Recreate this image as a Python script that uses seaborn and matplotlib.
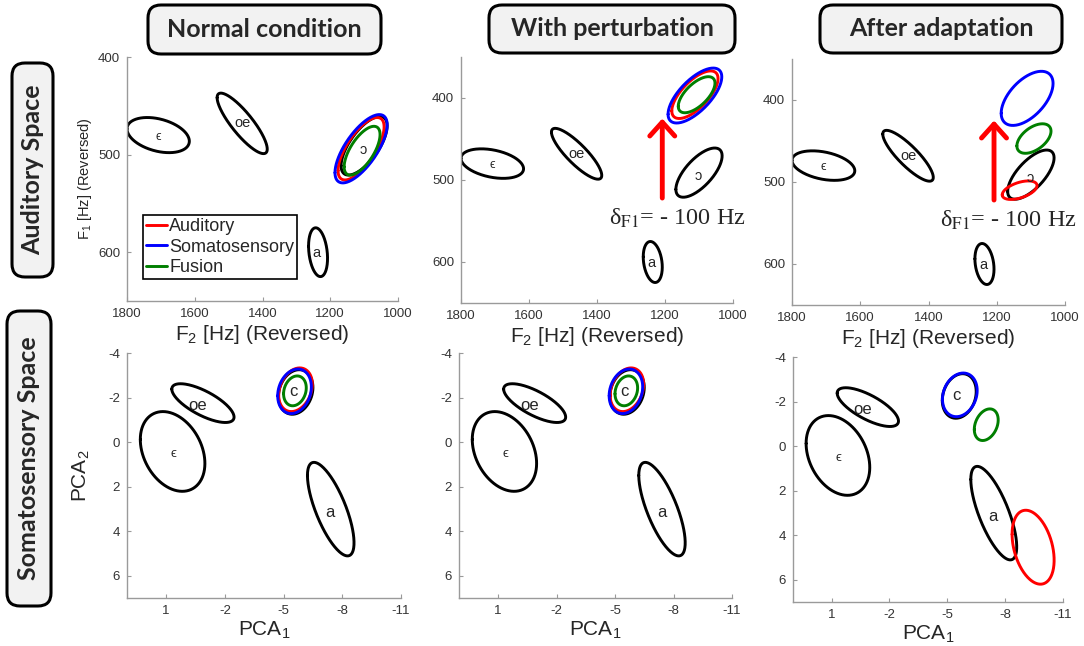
import numpy as np
import matplotlib
matplotlib.use("Agg")
import matplotlib.pyplot as plt
import seaborn as sns
from matplotlib.lines import Line2D
from matplotlib.patches import FancyBboxPatch

# ---- data ------------------------------------------------------------------
# Each ellipse: centre (cx, cy), half extent along x / y, correlation rho
model_names = ["Auditory", "Somatosensory", "Fusion"]
model_colors = ["#ff0000", "#0000ff", "#007f00"]

# auditory space (F2 on x, F1 on y), black vowel targets
top_vowels = ["\u03f5", "oe", "\u0254", "a"]
top_cx = [1708, 1460, 1100, 1236]
top_cy = [480, 468, 491, 600]
top_rx = [92, 74, 68, 28]
top_ry = [18, 31, 30, 25]
top_rho = [-0.35, -0.85, 0.68, -0.25]
top_label_x = [1708, 1460, 1103, 1240]
top_label_y = [482, 468, 495, 601]

# auditory space, model ellipses (Auditory, Somatosensory, Fusion)
top_normal_cx = [1109, 1109, 1106]
top_normal_cy = [494, 494, 496]
top_normal_rx = [68, 77, 53]
top_normal_ry = [32, 35, 25]
top_normal_rho = [0.7, 0.7, 0.66]

top_pert_cx = [1112, 1112, 1107]
top_pert_cy = [396, 397, 396]
top_pert_rx = [68, 79, 54]
top_pert_ry = [29, 33.5, 22]
top_pert_rho = [0.68, 0.68, 0.64]

top_adapt_cx = [1133, 1111, 1091]
top_adapt_cy = [510, 398, 447]
top_adapt_rx = [51, 76, 50]
top_adapt_ry = [11.3, 33, 18]
top_adapt_rho = [0.5, 0.55, 0.5]

# perturbation arrow and note (auditory space)
arrow_f2 = 1208
arrow_from_f1 = 522
arrow_to_f1 = 425
note_f2 = 1365
note_f1 = 547
note_text = "\u03b4$_{\\mathrm{F1}}$= - 100 Hz"

# somatosensory space (PCA1 on x, PCA2 on y), black vowel targets
bot_vowels = ["\u03f5", "oe", "c", "a"]
bot_cx = [0.67, -0.88, -5.62, -7.41]
bot_cy = [0.42, -1.75, -2.25, 3.01]
bot_rx = [1.65, 1.59, 0.88, 1.19]
bot_ry = [1.79, 0.87, 1.0, 2.1]
bot_rho = [-0.3, -0.72, 0.2, -0.72]
bot_label_x = [0.64, -0.6, -5.5, -7.39]
bot_label_y = [0.55, -1.63, -2.26, 3.14]

bot_normal_cx = [-5.61, -5.56, -5.58]
bot_normal_cy = [-2.35, -2.28, -2.3]
bot_normal_rx = [0.86, 0.86, 0.58]
bot_normal_ry = [0.98, 1.0, 0.67]
bot_normal_rho = [0.25, 0.2, 0.2]

bot_pert_cx = [-5.61, -5.56, -5.58]
bot_pert_cy = [-2.35, -2.28, -2.3]
bot_pert_rx = [0.86, 0.86, 0.58]
bot_pert_ry = [0.98, 1.0, 0.67]
bot_pert_rho = [0.25, 0.2, 0.2]

bot_adapt_cx = [-9.45, -5.65, -7.02]
bot_adapt_cy = [4.54, -2.3, -0.96]
bot_adapt_rx = [1.09, 0.9, 0.62]
bot_adapt_ry = [1.66, 0.98, 0.71]
bot_adapt_rho = [-0.35, 0.2, 0.3]

col_titles = ["Normal condition", "With perturbation", "After adaptation"]
row_titles = ["Auditory Space", "Somatosensory Space"]
top_xticks = [1800, 1600, 1400, 1200, 1000]
top_yticks = [400, 500, 600]
bot_xticks = [1, -2, -5, -8, -11]
bot_yticks = [-4, -2, 0, 2, 4, 6]

# ---- style -------------------------------------------------------------------
sns.set_theme(style="white")
plt.rcParams["font.family"] = ["Liberation Sans", "DejaVu Sans"]
plt.rcParams["mathtext.fontset"] = "custom"
plt.rcParams["mathtext.rm"] = "Liberation Sans"
plt.rcParams["mathtext.it"] = "Liberation Sans:italic"

SPINE = "#9a9a9a"
TICKC = "#333333"
VOWEL_FONT = ["Liberation Sans", "DejaVu Sans"]


def ellipse(cx, cy, rx, ry, rho, n=240):
    t = np.linspace(0, 2 * np.pi, n)
    return cx + rx * np.cos(t), cy + ry * np.cos(t + np.arccos(rho))


def draw_set(ax, cx, cy, rx, ry, rho, colors):
    for i in range(len(cx)):
        x, y = ellipse(cx[i], cy[i], rx[i], ry[i], rho[i])
        sns.lineplot(x=x, y=y, sort=False, estimator=None, color=colors[i],
                     linewidth=2.1, ax=ax, legend=False)


def style_axes(ax, xlim, ylim, xticks, yticks):
    ax.set_xlim(xlim)
    ax.set_ylim(ylim)
    ax.set_xticks(xticks)
    ax.set_yticks(yticks)
    ax.set_xticklabels([str(v) for v in xticks])
    ax.set_yticklabels([str(v) for v in yticks])
    for s in ["top", "right"]:
        ax.spines[s].set_visible(False)
    for s in ["left", "bottom"]:
        ax.spines[s].set_color(SPINE)
        ax.spines[s].set_linewidth(1.0)
    ax.tick_params(direction="in", length=3, width=0.8, color=SPINE,
                   labelcolor=TICKC, labelsize=9.5, pad=5,
                   bottom=True, left=True)


W, H = 1084, 646
fig = plt.figure(figsize=(W / 100, H / 100), dpi=100)


def px_axes(left, top, right, bottom):
    return fig.add_axes([left / W, 1 - bottom / H, (right - left) / W, (bottom - top) / H])


top_axes = [px_axes(127, 57, 398, 301), px_axes(461, 57, 733, 303), px_axes(792, 59, 1065, 305)]
bot_axes = [px_axes(127, 353, 401, 598), px_axes(459, 353, 732, 598), px_axes(793, 357, 1063, 602)]

top_sets = [
    (top_normal_cx, top_normal_cy, top_normal_rx, top_normal_ry, top_normal_rho),
    (top_pert_cx, top_pert_cy, top_pert_rx, top_pert_ry, top_pert_rho),
    (top_adapt_cx, top_adapt_cy, top_adapt_rx, top_adapt_ry, top_adapt_rho),
]
bot_sets = [
    (bot_normal_cx, bot_normal_cy, bot_normal_rx, bot_normal_ry, bot_normal_rho),
    (bot_pert_cx, bot_pert_cy, bot_pert_rx, bot_pert_ry, bot_pert_rho),
    (bot_adapt_cx, bot_adapt_cy, bot_adapt_rx, bot_adapt_ry, bot_adapt_rho),
]

# ---- auditory space -----------------------------------------------------------
for j, ax in enumerate(top_axes):
    draw_set(ax, top_cx, top_cy, top_rx, top_ry, top_rho, ["black"] * 4)
    draw_set(ax, *top_sets[j], model_colors)
    for k, v in enumerate(top_vowels):
        ax.text(top_label_x[k], top_label_y[k], v, ha="center", va="center",
                fontsize=9 if k == 0 else 10.5, family=VOWEL_FONT)
    style_axes(ax, (1800, 1000), (650, 400) if j == 0 else (650, 350),
               top_xticks, top_yticks)
    ax.set_xlabel(r"F$_2$ [Hz] (Reversed)", fontsize=15, labelpad=2)
    ax.set_ylabel("")
    if j > 0:
        ax.annotate("", xy=(arrow_f2, arrow_to_f1), xytext=(arrow_f2, arrow_from_f1),
                    arrowprops=dict(arrowstyle="->,head_length=0.5,head_width=0.45",
                                    color="red", lw=3.5, mutation_scale=20,
                                    shrinkA=0, shrinkB=0))
        ax.text(note_f2, note_f1, note_text, ha="left", va="center", fontsize=17.5,
                family="Liberation Serif", math_fontfamily="stix")

top_axes[0].set_ylabel(r"F$_1$ [Hz] (Reversed)", fontsize=10.5, labelpad=3)
handles = [Line2D([0], [0], color=c, lw=2.1) for c in model_colors]
leg = top_axes[0].legend(handles, model_names, loc="lower left",
                         bbox_to_anchor=(0.059, 0.09), borderaxespad=0,
                         frameon=True, fancybox=False, edgecolor="black",
                         framealpha=1, fontsize=13, handlelength=1.2,
                         handletextpad=0.1, borderpad=0.15, labelspacing=0.2)
leg.get_frame().set_linewidth(1.2)

# ---- somatosensory space ---------------------------------------------------------
for j, ax in enumerate(bot_axes):
    draw_set(ax, bot_cx, bot_cy, bot_rx, bot_ry, bot_rho, ["black"] * 4)
    draw_set(ax, *bot_sets[j], model_colors)
    for k, v in enumerate(bot_vowels):
        ax.text(bot_label_x[k], bot_label_y[k], v, ha="center", va="center",
                fontsize=9.5 if k == 0 else 12, family=VOWEL_FONT)
    style_axes(ax, (3, -11), (7, -4), bot_xticks, bot_yticks)
    ax.set_xlabel(r"PCA$_1$", fontsize=15, labelpad=2)
    ax.set_ylabel("")
bot_axes[0].set_ylabel(r"PCA$_2$", fontsize=15, labelpad=12)

# ---- titles in rounded boxes -------------------------------------------------------
def box_title(text, x0, y0, x1, y1, rotation=0):
    patch = FancyBboxPatch((x0 / 100, (H - y1) / 100), (x1 - x0) / 100, (y1 - y0) / 100,
                           boxstyle="round,pad=0,rounding_size=0.13",
                           transform=fig.dpi_scale_trans, facecolor="#f2f2f2",
                           edgecolor="black", linewidth=2.2)
    fig.add_artist(patch)
    fig.text((x0 + x1) / 2 / W, 1 - (y0 + y1) / 2 / H, text, ha="center",
             va="center", rotation=rotation, fontsize=18, fontweight="bold",
             family=["Lato", "DejaVu Sans"])


box_title(col_titles[0], 148, 5, 381, 54)
box_title(col_titles[1], 489, 5, 735, 53)
box_title(col_titles[2], 820, 5, 1062, 53)
box_title(row_titles[0], 12, 63, 53, 277, rotation=90)
box_title(row_titles[1], 7, 311, 51, 606, rotation=90)

fig.savefig("out.png", dpi=100, facecolor="white")
